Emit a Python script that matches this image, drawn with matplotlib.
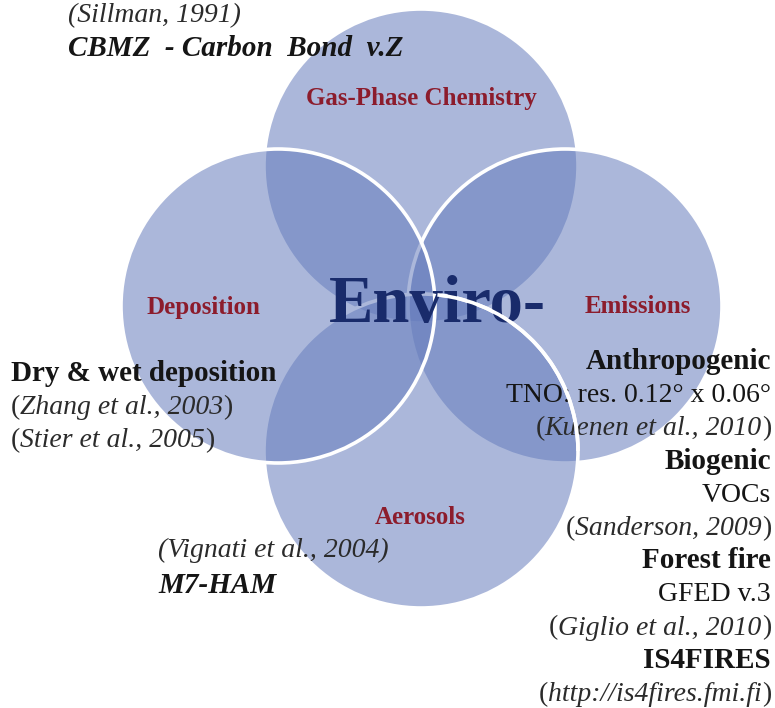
import matplotlib.pyplot as plt
from matplotlib.patches import Circle, Arc

plt.rcParams['font.family'] = ['Liberation Serif', 'DejaVu Serif']

# circle labels (top, right, bottom, left)
topics = ['Gas-Phase Chemistry', 'Emissions', 'Aerosols', 'Deposition']
centre_word = 'Enviro-'

# b = bold, r = roman, i = italic, p = italic inside upright brackets, bi = bold italic
chem_lines = ['(Sillman, 1991)', 'CBMZ  - Carbon  Bond  v.Z']
chem_kind = ['i', 'bi']
depo_lines = ['Dry & wet deposition', '(Zhang et al., 2003)', '(Stier et al., 2005)']
depo_kind = ['b', 'p', 'p']
aero_lines = ['(Vignati et al., 2004)', 'M7-HAM']
aero_kind = ['i', 'bi']
emis_lines = ['Anthropogenic', 'TNO: res. 0.12° x 0.06°', '(Kuenen et al., 2010)',
              'Biogenic', 'VOCs', '(Sanderson, 2009)',
              'Forest fire', 'GFED v.3', '(Giglio et al., 2010)',
              'IS4FIRES', '(http://is4fires.fmi.fi)']
emis_kind = ['b', 'r', 'p', 'b', 'r', 'p', 'b', 'r', 'p', 'b', 'p']

W, H = 775, 708
fig = plt.figure(figsize=(W / 100, H / 100), dpi=100)
ax = fig.add_axes([0, 0, 1, 1])
ax.set_xlim(0, W)
ax.set_ylim(H, 0)
ax.axis('off')

# circles, drawn in this order so the white rims overlap like the original
R = 157
circles = {'top': (421, 166), 'right': (565, 306), 'bottom': (421, 451), 'left': (278, 306)}
for name in ['top', 'right', 'bottom', 'left']:
    ax.add_patch(Circle(circles[name], R, facecolor=(0.40, 0.49, 0.74, 0.55),
                        edgecolor='white', lw=2.6))

red = '#8c1c2c'
lab = dict(color=red, fontsize=18, fontweight='bold', ha='center', va='baseline')
ax.text(421, 105, topics[0], **lab)
ax.text(638, 313, topics[1], **lab)
ax.text(420, 524, topics[2], **lab)
ax.text(203, 314, topics[3], **lab)

ax.text(329, 322, centre_word, color='#192b6b', fontsize=48, fontweight='bold',
        ha='left', va='baseline', zorder=3)
# the upper-right rim of the lower circle runs across the big word
# (y axis is inverted, so the upper right quarter is 270..360 degrees)
ax.add_patch(Arc(circles['bottom'], 2 * R, 2 * R, theta1=276, theta2=360,
                 edgecolor='white', lw=2.6, zorder=4))

STY = {'b': dict(fontweight='bold', color='#151515'),
       'r': dict(color='#151515'),
       'i': dict(style='italic', color='#2b2b2b'),
       'bi': dict(style='italic', fontweight='bold', color='#151515')}


def line(x, y, s, kind, ha='left'):
    fs = 21 if kind in ('b', 'bi') else 20
    if kind != 'p':
        ax.text(x, y, s, fontsize=fs, ha=ha, va='baseline', **STY[kind])
        return
    # upright brackets around an italic reference
    parts = [('(', 'r'), (s[1:-1], 'i'), (')', 'r')]
    if ha == 'right':
        parts = parts[::-1]
    prev = None
    for txt, k in parts:
        kw = dict(STY[k])
        kw['color'] = '#2b2b2b'
        if prev is None:
            prev = ax.text(x, y, txt, fontsize=fs, ha=ha, va='baseline', **kw)
        else:
            anchor = (0, 0) if ha == 'right' else (1, 0)
            prev = ax.annotate(txt, xy=anchor, xycoords=prev, fontsize=fs,
                               ha=ha, va='bottom', **kw)


for i, (s, k) in enumerate(zip(chem_lines, chem_kind)):
    line(68, 22 + 34 * i, s, k)
for i, (s, k) in enumerate(zip(depo_lines, depo_kind)):
    line(11, 381 + 33 * i, s, k)
for i, (s, k) in enumerate(zip(aero_lines, aero_kind)):
    line(158, 557 + 36 * i, s, k)
for i, (s, k) in enumerate(zip(emis_lines, emis_kind)):
    line(771, 369 + 33.2 * i, s, k, ha='right')

fig.savefig('out.png', dpi=100)
